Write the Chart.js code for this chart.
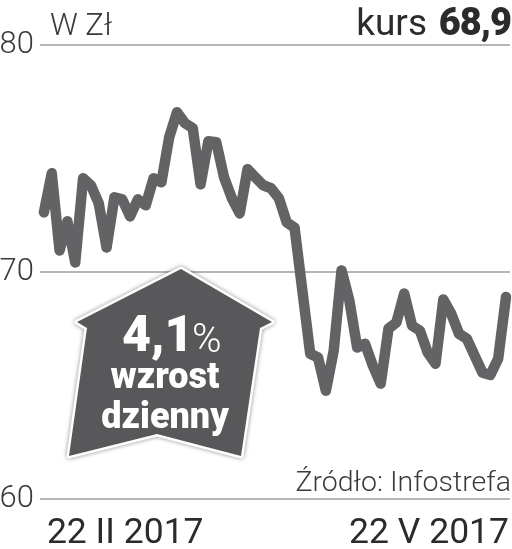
<!DOCTYPE html>
<html>
<head>
<meta charset="utf-8">
<script src="https://cdn.jsdelivr.net/npm/chart.js@4"></script>
<style>
  body { margin: 0; background: #fff; }
</style>
</head>
<body>
<canvas id="wykres" width="512" height="549"></canvas>
<script>
const kursy = [72.63, 74.35, 70.95, 72.23, 70.42, 74.13, 73.82, 73.02, 71.08, 73.29,
    73.2, 72.45, 73.2, 72.94, 74.13, 73.95, 75.94, 77.04, 76.56, 76.34,
    73.86, 75.76, 75.72, 74.17, 73.25, 72.58, 74.53, 74.17, 73.82, 73.69,
    73.25, 72.19, 71.96, 69.18, 66.4, 66.23, 64.77, 66.53, 70.07, 68.74,
    66.67, 66.84, 65.87, 65.08, 67.51, 67.77, 69.05, 67.64, 67.42, 66.45,
    65.96, 68.79, 68.17, 67.28, 67.06, 66.31, 65.56, 65.47, 66.18, 68.9]
const daty = ["22 II 2017", "22 V 2017"]
const osY = [60, 70, 80]

const etykiety = kursy.map((k, i) => i === 0 ? daty[0] : (i === kursy.length - 1 ? daty[1] : ""))

const czcionka = "Roboto, sans-serif"
const ciemny = "#2b2b2d"

const opisy = {
    id: "opisy",
    afterDatasetsDraw(chart) {
        const c = chart.ctx
        c.save()

        // naglowek
        c.fillStyle = "#3a3a3c"
        c.textBaseline = "alphabetic"
        c.textAlign = "left"
        c.font = "300 31px " + czcionka
        c.fillText("W Zł", 50, 35)
        c.fillStyle = ciemny
        c.textAlign = "right"
        c.font = "400 37px " + czcionka
        c.fillText("kurs", 427, 35)
        c.font = "900 38px " + czcionka
        c.letterSpacing = "-1px"
        c.fillText("68,9", 511, 35)
        c.letterSpacing = "0px"

        // zrodlo
        c.fillStyle = "#3a3a3c"
        c.font = "300 28.5px " + czcionka
        c.fillText("Źródło: Infostrefa", 511, 491)

        // domek
        c.beginPath()
        c.moveTo(181, 269)
        c.lineTo(272, 322)
        c.lineTo(260, 328)
        c.lineTo(241, 456)
        c.lineTo(157, 434)
        c.lineTo(69, 456)
        c.lineTo(87, 328)
        c.lineTo(77, 322)
        c.closePath()
        c.lineJoin = "round"
        c.shadowColor = "rgba(0,0,0,0.45)"
        c.shadowBlur = 4
        c.strokeStyle = "#fff"
        c.lineWidth = 5
        c.stroke()
        c.shadowColor = "transparent"
        c.fillStyle = "#58585a"
        c.fill()

        c.fillStyle = "#fff"
        c.textAlign = "left"
        c.font = "900 50px " + czcionka
        c.fillText("4,1", 122, 351)
        c.font = "300 40px " + czcionka
        c.fillText("%", 192, 352)
        c.textAlign = "center"
        c.font = "900 36px " + czcionka
        c.fillText("wzrost", 165, 388)
        c.fillText("dzienny", 165, 428)
        c.restore()
    }
}

new Chart(document.getElementById("wykres"), {
    type: "line",
    data: {
        labels: etykiety,
        datasets: [{
            data: kursy,
            borderColor: "#636365",
            borderWidth: 10.5,
            borderJoinStyle: "round",
            borderCapStyle: "round",
            pointRadius: 0,
            tension: 0
        }]
    },
    options: {
        responsive: false,
        animation: false,
        layout: { padding: { top: 45 } },
        plugins: { legend: { display: false }, tooltip: { enabled: false } },
        scales: {
            x: {
                offset: true,
                border: { display: false },
                grid: { display: false },
                afterBuildTicks: s => { s.ticks = [s.ticks[0], s.ticks[s.ticks.length - 1]] },
                afterFit: s => { s.height = 50 },
                ticks: {
                    autoSkip: false,
                    maxRotation: 0,
                    align: "inner",
                    labelOffset: 3,
                    padding: 6,
                    color: ciemny,
                    font: { family: czcionka, size: 35.5 }
                }
            },
            y: {
                min: 60,
                max: 80,
                border: { display: false },
                afterBuildTicks: s => { s.ticks = osY.map(v => ({ value: v })) },
                afterFit: s => { s.width = 40 },
                grid: { color: "#b5b5b7", lineWidth: 2, drawTicks: false },
                ticks: {
                    padding: 6,
                    color: "#3a3a3c",
                    font: { family: czcionka, size: 31, weight: "300" }
                }
            }
        }
    },
    plugins: [opisy]
})
</script>
</body>
</html>
